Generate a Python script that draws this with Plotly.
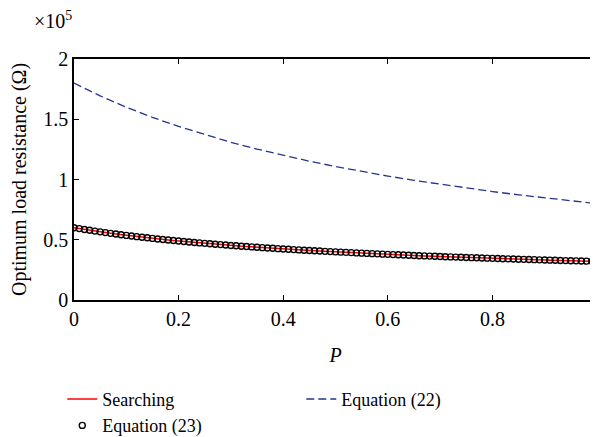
import plotly.graph_objects as go

# P values (0 to 1, step 0.01) for the searching / Equation (23) series
p_fine = [i / 100 for i in range(101)]
# Optimum load resistance, units of 1e5 Ohm
searching = [
    0.6000, 0.5926, 0.5855, 0.5786, 0.5719, 0.5655, 0.5593, 0.5533, 0.5474, 0.5418,
    0.5363, 0.5310, 0.5258, 0.5208, 0.5160, 0.5112, 0.5066, 0.5021, 0.4978, 0.4935,
    0.4894, 0.4853, 0.4814, 0.4775, 0.4738, 0.4701, 0.4665, 0.4630, 0.4596, 0.4562,
    0.4529, 0.4497, 0.4466, 0.4435, 0.4405, 0.4375, 0.4346, 0.4318, 0.4290, 0.4263,
    0.4236, 0.4210, 0.4184, 0.4158, 0.4133, 0.4109, 0.4085, 0.4061, 0.4038, 0.4015,
    0.3993, 0.3971, 0.3949, 0.3928, 0.3907, 0.3886, 0.3866, 0.3846, 0.3826, 0.3807,
    0.3787, 0.3769, 0.3750, 0.3732, 0.3714, 0.3696, 0.3678, 0.3661, 0.3644, 0.3627,
    0.3611, 0.3594, 0.3578, 0.3562, 0.3547, 0.3531, 0.3516, 0.3501, 0.3486, 0.3471,
    0.3457, 0.3442, 0.3428, 0.3414, 0.3400, 0.3387, 0.3373, 0.3360, 0.3347, 0.3334,
    0.3321, 0.3308, 0.3296, 0.3283, 0.3271, 0.3259, 0.3247, 0.3235, 0.3223, 0.3211,
    0.3200,
]
equation23 = list(searching)

# Equation (22) series
p_coarse = [0.0, 0.05, 0.1, 0.15, 0.2, 0.25, 0.3, 0.35, 0.4, 0.45, 0.5,
            0.55, 0.6, 0.65, 0.7, 0.75, 0.8, 0.85, 0.9, 0.95, 1.0]
equation22 = [1.8, 1.6941, 1.6, 1.5158, 1.44, 1.3714, 1.3091, 1.2522, 1.2, 1.152, 1.1077,
              1.0667, 1.0286, 0.9931, 0.96, 0.929, 0.9, 0.8727, 0.8471, 0.8229, 0.8]

x_ticks = [0, 0.2, 0.4, 0.6, 0.8, 1]
x_ticklabels = ["0", "0.2", "0.4", "0.6", "0.8", "1"]
y_ticks = [0, 0.5, 1, 1.5, 2]
y_ticklabels = ["0", "0.5", "1", "1.5", "2"]

FONT = "Liberation Serif, Times New Roman, serif"

fig = go.Figure()
fig.add_trace(go.Scatter(x=p_fine, y=searching, mode="lines", name="Searching",
                         line=dict(color="#ff0000", width=1.5)))
fig.add_trace(go.Scatter(x=p_coarse, y=equation22, mode="lines", name="Equation (22)",
                         line=dict(color="#26358c", width=1.3, dash="8px,4px")))
fig.add_trace(go.Scatter(x=p_fine, y=equation23, mode="markers", name="Equation (23)",
                         marker=dict(symbol="circle-open", size=6, color="black",
                                     line=dict(width=1.4, color="black"))))

# the page body has an 8px margin, so the figure is sized/offset to compensate
fig.update_layout(
    width=590, height=429,
    margin=dict(l=66, r=1, t=51, b=137, autoexpand=False),
    paper_bgcolor="white", plot_bgcolor="white",
    font=dict(family=FONT, size=20, color="black"),
    showlegend=True,
    legend=dict(orientation="h", xref="container", yref="container",
                x=0.092, xanchor="left", y=0.131, yanchor="top",
                entrywidth=194, entrywidthmode="pixels",
                font=dict(family=FONT, size=18), bgcolor="rgba(0,0,0,0)",
                tracegroupgap=0, itemwidth=30),
    xaxis=dict(range=[0, 1], tickvals=x_ticks, ticktext=x_ticklabels,
               ticks="inside", ticklen=5, tickwidth=1.2, tickcolor="black",
               showline=True, linecolor="black", linewidth=1.6, mirror="ticks",
               showgrid=False, zeroline=False, automargin=False,
               ticklabeloverflow="allow", tickfont=dict(size=20),
               title=dict(text="<i>P</i>", standoff=19, font=dict(size=20))),
    yaxis=dict(range=[0, 2], tickvals=y_ticks, ticktext=y_ticklabels,
               ticks="inside", ticklen=5, tickwidth=1.2, tickcolor="black",
               showline=True, linecolor="black", linewidth=1.6, mirror="ticks",
               showgrid=False, zeroline=False, automargin=False,
               tickfont=dict(size=20),
               title=dict(text="Optimum load resistance (Ω)", standoff=16, font=dict(size=20))),
    annotations=[dict(text="×10<sup>5</sup>", xref="paper", yref="paper",
                      x=-0.08, y=1.16, xanchor="left", yanchor="middle",
                      showarrow=False, font=dict(family=FONT, size=20))],
)

fig.write_html("out.html")
